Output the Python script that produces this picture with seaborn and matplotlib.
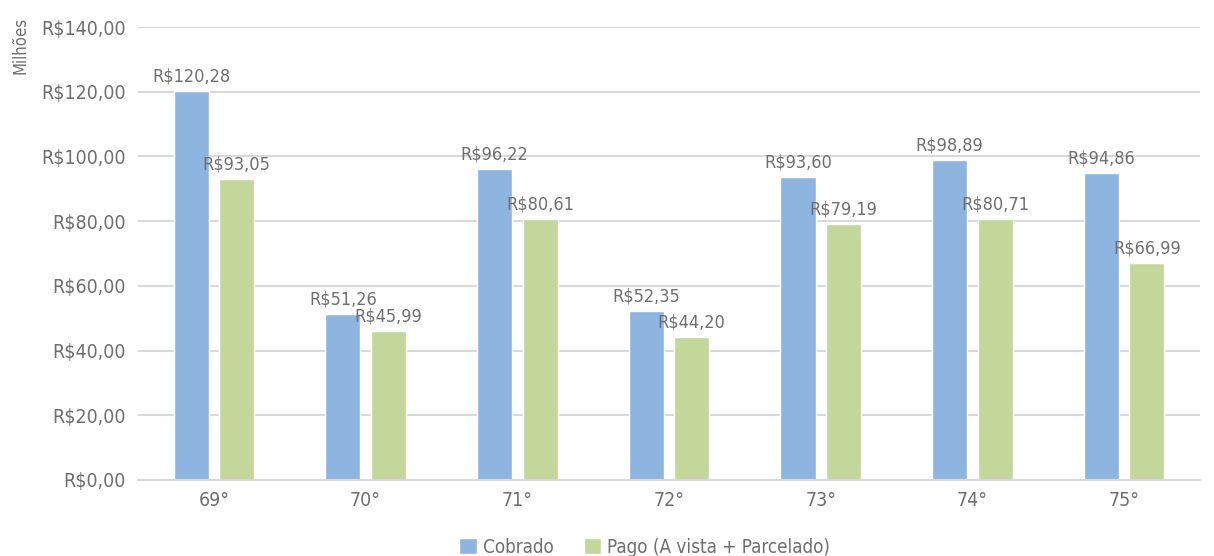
import matplotlib
matplotlib.use("Agg")
import matplotlib.pyplot as plt
import seaborn as sns
import pandas as pd
from matplotlib import font_manager

categories = ["69°", "70°", "71°", "72°", "73°", "74°", "75°"]
cobrado = [120.28, 51.26, 96.22, 52.35, 93.60, 98.89, 94.86]
pago = [93.05, 45.99, 80.61, 44.20, 79.19, 80.71, 66.99]
series_names = ["Cobrado", "Pago (A vista + Parcelado)"]
y_ticks = [0, 20, 40, 60, 80, 100, 120, 140]

sns.set_theme(style="white")

# prefer a narrow sans face when one is installed
narrow = None
for f in font_manager.fontManager.ttflist:
    if ("Narrow" in f.name or "Condensed" in f.name or f.stretch in ("condensed", "semi-condensed")) \
            and f.weight in (400, "normal", "regular") and f.style == "normal":
        narrow = f
        break
if narrow is not None:
    plt.rcParams["font.family"] = [narrow.name, "DejaVu Sans"]
    plt.rcParams["font.stretch"] = narrow.stretch
else:
    plt.rcParams["font.family"] = ["Liberation Sans", "DejaVu Sans"]

TEXT = "#6f6f6f"
GRID = "#d9d9d9"
colors = ["#8eb4e0", "#c4d79b"]

def brl(v):
    return "R$" + f"{v:,.2f}".replace(",", "X").replace(".", ",").replace("X", ".")

df = pd.DataFrame({
    "edicao": categories * 2,
    "valor": cobrado + pago,
    "serie": [series_names[0]] * len(categories) + [series_names[1]] * len(categories),
})

fig = plt.figure(figsize=(12.14, 5.56), dpi=100)
ax = fig.add_axes([0.1137, 0.1367, 0.8748, 0.8147])

sns.barplot(data=df, x="edicao", y="valor", hue="serie", palette=colors,
            width=0.6, gap=0.23, ax=ax, saturation=1, legend=True)

for cont in ax.containers:
    ax.bar_label(cont, labels=[brl(b.get_height()) for b in cont],
                 padding=4, fontsize=13, color=TEXT)

ax.set_ylim(0, 140)
ax.set_yticks(y_ticks)
ax.set_yticklabels([brl(v) for v in y_ticks])
ax.set_xlim(-0.5, len(categories) - 0.5)
ax.yaxis.grid(True, color=GRID, linewidth=1.5)
ax.set_axisbelow(True)
for s in ["top", "right", "left"]:
    ax.spines[s].set_visible(False)
ax.spines["bottom"].set_color(GRID)
ax.spines["bottom"].set_linewidth(1.5)
ax.tick_params(axis="y", labelsize=14, colors=TEXT, length=0, pad=9)
ax.tick_params(axis="x", labelsize=14, colors=TEXT, length=0, pad=8)
ax.set_xlabel("")
ax.set_ylabel("")

fig.text(0.017, 0.919, "Milhões", rotation=90, ha="center", va="center",
         fontsize=12, color=TEXT)

handles, labels = ax.get_legend_handles_labels()
ax.legend(handles, labels, loc="center", bbox_to_anchor=(0.477, -0.148),
          ncol=2, frameon=False, fontsize=13.5, labelcolor=TEXT,
          handlelength=0.95, handleheight=0.95, handletextpad=0.3, columnspacing=1.6,
          borderpad=0.1)

fig.savefig("out.png", dpi=100)
